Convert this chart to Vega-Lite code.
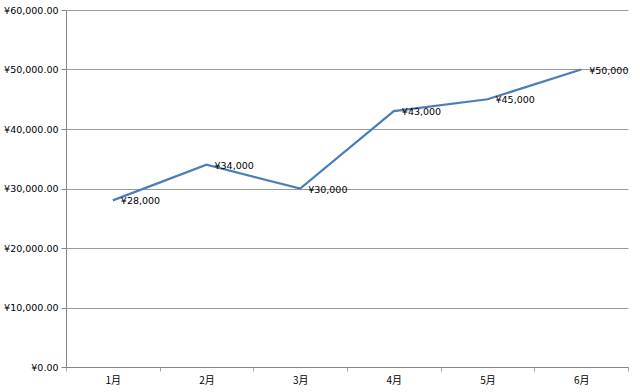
{
  "$schema": "https://vega.github.io/schema/vega-lite/v6.json",
  "autosize": {"type": "none"},
  "padding": {"left": 66, "top": 10, "right": 12, "bottom": 25},
  "width": 562,
  "height": 357,
  "background": "white",
  "config": {"view": {"stroke": null}, "font": "Liberation Sans, Noto Sans CJK SC",
    "locale": {"number": {"decimal": ".", "thousands": ",", "grouping": [3], "currency": ["¥", ""]}}},
  "data": {"values": [
    {"month": "1月", "value": 28000},
    {"month": "2月", "value": 34000},
    {"month": "3月", "value": 30000},
    {"month": "4月", "value": 43000},
    {"month": "5月", "value": 45000},
    {"month": "6月", "value": 50000}
  ]},
  "encoding": {
    "x": {"field": "month", "type": "ordinal", "sort": null,
      "scale": {"type": "band", "paddingInner": 0, "paddingOuter": 0},
      "axis": {"title": null, "labelAngle": 0, "tickBand": "extent", "tickExtra": true, "tickSize": 4,
        "tickColor": "#a6a6a6", "domainColor": "#868686", "labelFontSize": 10, "labelColor": "#000000",
        "labelPadding": 4, "labelFont": "Noto Sans CJK SC", "grid": false}},
    "y": {"field": "value", "type": "quantitative",
      "scale": {"domain": [0, 60000], "nice": false},
      "axis": {"title": null, "values": [0, 10000, 20000, 30000, 40000, 50000, 60000],
        "format": "$,.2f", "labelFontSize": 9.5, "labelColor": "#000000",
        "tickSize": 5, "tickColor": "#868686", "domainColor": "#868686", "gridColor": "#9a9a9a",
        "gridWidth": 1, "labelPadding": 3, "labelFont": "DejaVu Sans"}}
  },
  "layer": [
    {"mark": {"type": "line", "color": "#4a7ebb", "strokeWidth": 2.2}},
    {"mark": {"type": "text", "align": "left", "baseline": "middle", "dx": 8, "dy": 1, "fontSize": 9.5, "font": "DejaVu Sans", "color": "#000000"},
      "encoding": {"text": {"field": "value", "type": "quantitative", "format": "$,d"}}}
  ]
}
